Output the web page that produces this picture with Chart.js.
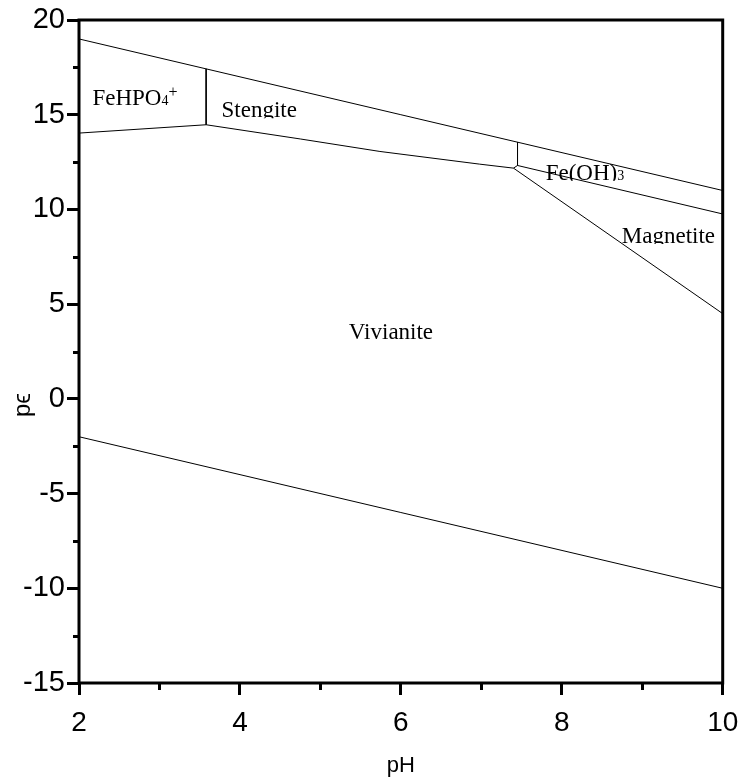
<!DOCTYPE html>
<html><head><meta charset="utf-8">
<script src="https://cdn.jsdelivr.net/npm/chart.js@4"></script>
<style>html,body{margin:0;padding:0;background:#fff}canvas{display:block}</style>
</head><body>
<canvas id="c" width="744" height="778"></canvas>
<script>
// ---- axis labels / ticks ----
const xTitle = 'pH';
const yTitle = 'p\u03F5';
const xTicks = [2, 4, 6, 8, 10];
const xMinorTicks = [3, 5, 7, 9];
const yTicks = [-15, -10, -5, 0, 5, 10, 15, 20];
const yMinorTicks = [-12.5, -7.5, -2.5, 2.5, 7.5, 12.5, 17.5];

// ---- boundary lines (pH, pe) ----
const upperWaterPH = [2, 10];
const upperWaterPE = [19, 11];
const lowerWaterPH = [2, 10];
const lowerWaterPE = [-2, -10];
const feHPO4StengitePH = [3.58, 3.58];
const feHPO4StengitePE = [17.42, 14.47];
const feHPO4VivianitePH = [2, 3.58];
const feHPO4VivianitePE = [14.03, 14.47];
const stengiteVivianitePH = [3.58, 4.75, 5.74, 6.98, 7.40];
const stengiteVivianitePE = [14.47, 13.72, 13.06, 12.39, 12.18];
const junctionPH = [7.40, 7.45];
const junctionPE = [12.18, 12.32];
const stengiteFeOH3PH = [7.45, 7.45];
const stengiteFeOH3PE = [13.55, 12.32];
const feOH3MagnetitePH = [7.45, 10];
const feOH3MagnetitePE = [12.32, 9.76];
const magnetiteVivianitePH = [7.40, 10];
const magnetiteVivianitePE = [12.18, 4.50];

// ---- region names ----
const regionNames = ['FeHPO', 'Stengite', 'Fe(OH)', 'Magnetite', 'Vivianite'];
const regionSub = ['4', '', '3', '', ''];
const regionSup = ['+', '', '', '', ''];
const regionPH = [2.167, 3.771, 7.80, 8.746, 5.354];
const regionPE = [15.52, 14.87, 11.57, 8.23, 3.18];

const lines = [
  [upperWaterPH, upperWaterPE],
  [lowerWaterPH, lowerWaterPE],
  [feHPO4StengitePH, feHPO4StengitePE],
  [feHPO4VivianitePH, feHPO4VivianitePE],
  [stengiteVivianitePH, stengiteVivianitePE],
  [junctionPH, junctionPE],
  [stengiteFeOH3PH, stengiteFeOH3PE],
  [feOH3MagnetitePH, feOH3MagnetitePE],
  [magnetiteVivianitePH, magnetiteVivianitePE]
];

const datasets = lines.map(([xs, ys]) => ({
  data: xs.map((x, i) => ({x: x, y: ys[i]})),
  showLine: true,
  borderColor: '#000',
  borderWidth: 1,
  pointRadius: 0,
  pointHoverRadius: 0,
  fill: false,
  tension: 0
}));

const SANS = "'Liberation Sans', Arial, sans-serif";
const SERIF = "'Liberation Serif', 'Times New Roman', serif";

const decorPlugin = {
  id: 'decor',
  afterDatasetsDraw(chart) {
    const {ctx, chartArea: a, scales: {x, y}} = chart;
    ctx.save();
    // region labels
    ctx.fillStyle = '#000';
    ctx.textBaseline = 'alphabetic';
    ctx.textAlign = 'left';
    regionNames.forEach((name, i) => {
      let px = x.getPixelForValue(regionPH[i]);
      const py = y.getPixelForValue(regionPE[i]);
      ctx.save();
      ctx.beginPath();
      ctx.rect(0, 0, chart.width, py + 1);
      ctx.clip();
      ctx.font = '23px ' + SERIF;
      ctx.fillText(name, px, py);
      px += ctx.measureText(name).width;
      if (regionSub[i]) {
        ctx.font = '14px ' + SERIF;
        ctx.fillText(regionSub[i], px, py);
        px += ctx.measureText(regionSub[i]).width;
      }
      if (regionSup[i]) {
        ctx.font = '16px ' + SERIF;
        ctx.fillText(regionSup[i], px, py - 8);
      }
      ctx.restore();
    });
    // frame
    ctx.strokeStyle = '#000';
    ctx.lineWidth = 3;
    ctx.strokeRect(a.left, a.top, a.right - a.left, a.bottom - a.top);
    // minor ticks
    ctx.beginPath();
    yMinorTicks.forEach(v => {
      const py = Math.round(y.getPixelForValue(v)) + 0.5;
      ctx.moveTo(a.left - 6, py); ctx.lineTo(a.left, py);
    });
    xMinorTicks.forEach(v => {
      const px = Math.round(x.getPixelForValue(v)) + 0.5;
      ctx.moveTo(px, a.bottom); ctx.lineTo(px, a.bottom + 7);
    });
    ctx.stroke();
    // y title
    ctx.font = '24px ' + SANS;
    ctx.textAlign = 'center';
    ctx.textBaseline = 'middle';
    ctx.translate(23, 405);
    ctx.rotate(-Math.PI / 2);
    ctx.fillText(yTitle, 0, 0);
    ctx.restore();
  }
};

new Chart(document.getElementById('c'), {
  type: 'scatter',
  data: {datasets},
  options: {
    responsive: false,
    devicePixelRatio: 1,
    animation: false,
    events: [],
    layout: {padding: {top: 20, right: 21.3, left: 0, bottom: 0}},
    plugins: {legend: {display: false}, tooltip: {enabled: false}, title: {display: false}},
    scales: {
      x: {
        type: 'linear', min: 2, max: 10,
        afterBuildTicks: s => { s.ticks = xTicks.map(v => ({value: v})); },
        afterFit: s => { s.height = 95; s.paddingLeft = 0; s.paddingRight = 0; },
        border: {display: false},
        grid: {drawOnChartArea: false, drawTicks: true, tickLength: 12, lineWidth: 3, color: '#000'},
        ticks: {color: '#000', font: {family: SANS, size: 28}, padding: 11, maxRotation: 0, autoSkip: false},
        title: {display: true, text: xTitle, color: '#000', font: {family: SANS, size: 22, lineHeight: 1.0}, padding: {top: 0, bottom: 1.5}}
      },
      y: {
        type: 'linear', min: -15, max: 20,
        afterBuildTicks: s => { s.ticks = yTicks.map(v => ({value: v})); },
        afterFit: s => { s.width = 79; s.paddingTop = 0; s.paddingBottom = 0; },
        border: {display: false},
        grid: {drawOnChartArea: false, drawTicks: true, tickLength: 12, lineWidth: 3, color: '#000'},
        ticks: {color: '#000', font: {family: SANS, size: 29}, padding: 2, autoSkip: false}
      }
    }
  },
  plugins: [decorPlugin]
});
</script>
</body></html>
